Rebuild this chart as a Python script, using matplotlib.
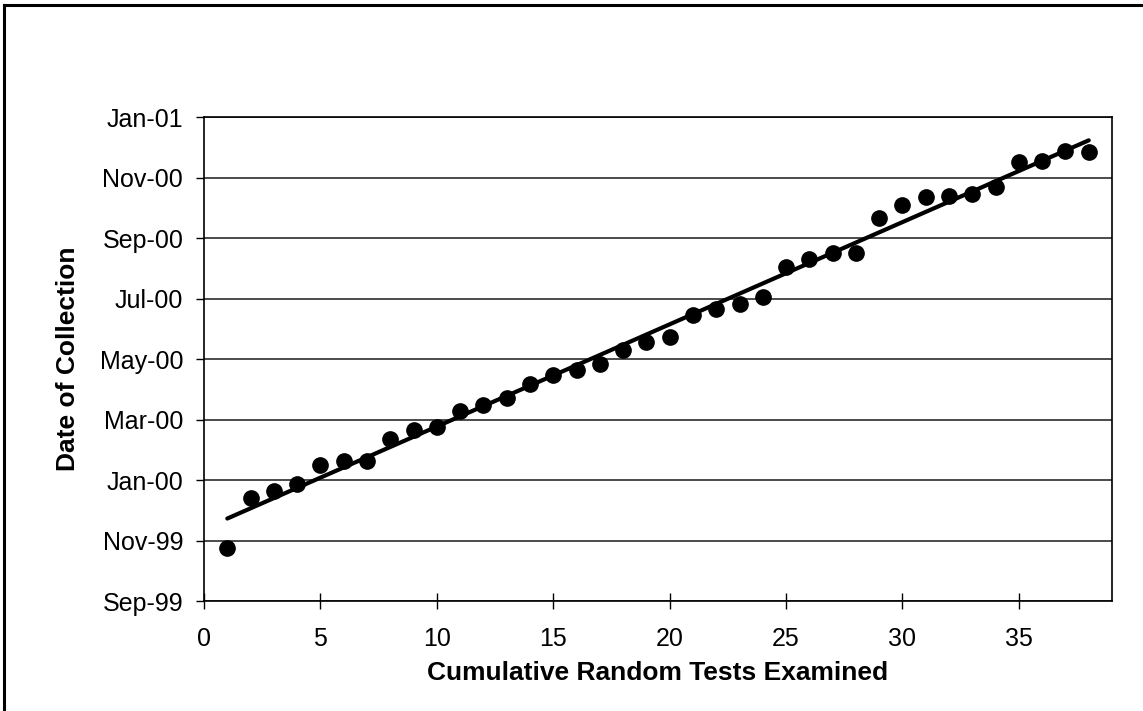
import datetime as dt
import numpy as np
import matplotlib
matplotlib.use("Agg")
import matplotlib.pyplot as plt
import matplotlib.dates as mdates
from matplotlib.lines import Line2D

plt.rcParams['font.family'] = ['Liberation Sans', 'DejaVu Sans']

# Test sequence number and collection date for each random test
tests = list(range(1, 39))
collection_dates = [
    "1999-11-09", "1999-12-28", "2000-01-04", "2000-01-11", "2000-01-30",
    "2000-02-03", "2000-02-03", "2000-02-25", "2000-03-05", "2000-03-08",
    "2000-03-23", "2000-03-29", "2000-04-05", "2000-04-19", "2000-04-28",
    "2000-05-03", "2000-05-09", "2000-05-23", "2000-05-31", "2000-06-05",
    "2000-06-27", "2000-07-03", "2000-07-08", "2000-07-15", "2000-08-13",
    "2000-08-21", "2000-08-27", "2000-08-27", "2000-10-01", "2000-10-14",
    "2000-10-22", "2000-10-23", "2000-10-25", "2000-11-01", "2000-11-25",
    "2000-11-26", "2000-12-06", "2000-12-05",
]

x_ticks = [0, 5, 10, 15, 20, 25, 30, 35]
x_label = "Cumulative Random Tests Examined"
y_label = "Date of Collection"

x = np.array(tests, dtype=float)
y = mdates.date2num([dt.datetime.strptime(d, "%Y-%m-%d") for d in collection_dates])

fig = plt.figure(figsize=(11.43, 7.11), dpi=100)
ax = fig.add_axes([0.1785, 0.1547, 0.7944, 0.6807])

# Linear trend through the collection dates
slope, intercept = np.polyfit(x, y, 1)
xf = np.array([x.min(), x.max()])
ax.plot(xf, slope * xf + intercept, color='black', lw=3.0, solid_capstyle='round', zorder=3)

ax.plot(x, y, 'o', color='black', markersize=11, zorder=4, clip_on=False)

# Date axis: two-month steps
y0 = mdates.date2num(dt.datetime(1999, 9, 17))
ax.set_ylim(y0, y0 + 480)
ax.set_yticks([y0 + 60 * k for k in range(9)])
ax.yaxis.set_major_formatter(mdates.DateFormatter('%b-%y'))
ax.set_xlim(0, 39)
ax.set_xticks(x_ticks)

ax.grid(axis='y', color='#1a1a1a', lw=1.1)
ax.set_axisbelow(True)
for s in ax.spines.values():
    s.set_linewidth(1.2)
    s.set_color('black')

ax.tick_params(axis='y', direction='out', length=6, width=1, labelsize=18, pad=9)
ax.tick_params(axis='x', direction='inout', length=12, width=1, labelsize=18, pad=13)

ax.set_xlabel(x_label, fontsize=19, fontweight='bold', labelpad=7)
ax.set_ylabel(y_label, fontsize=19, fontweight='bold', labelpad=14)

# Outer chart frame (left and top edges)
fig.add_artist(Line2D([4 / 1143, 4 / 1143], [0, 1 - 5 / 711], transform=fig.transFigure,
                      color='black', lw=2.2))
fig.add_artist(Line2D([4 / 1143, 1], [1 - 5 / 711, 1 - 5 / 711], transform=fig.transFigure,
                      color='black', lw=2.2))

fig.savefig("out.png", dpi=100)
